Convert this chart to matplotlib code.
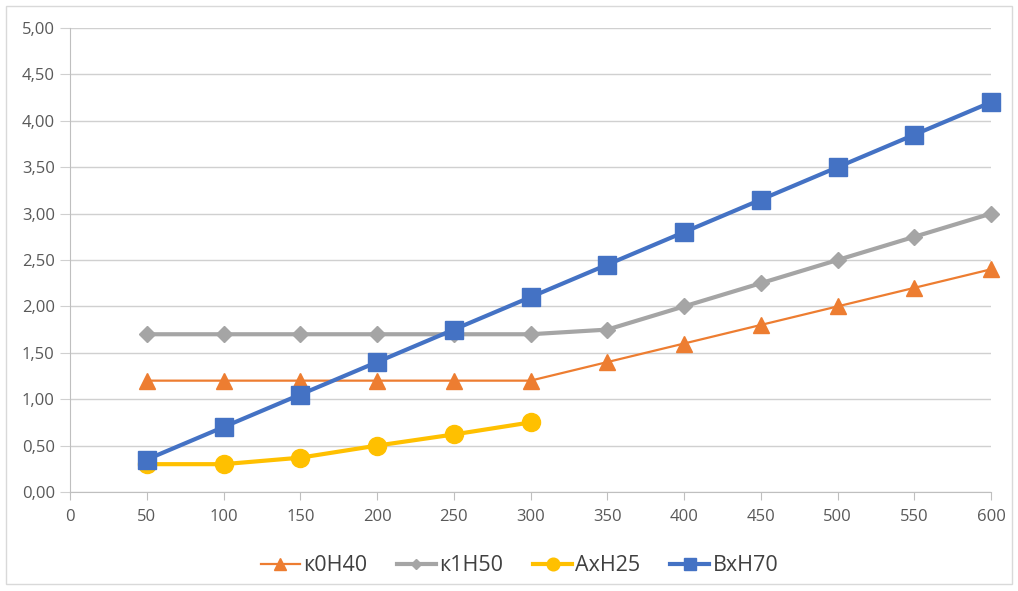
import matplotlib.pyplot as plt
from matplotlib.patches import Rectangle
from matplotlib.ticker import FuncFormatter, MultipleLocator

plt.rcParams['font.family'] = ['Open Sans', 'DejaVu Sans']

# данные
x = [50, 100, 150, 200, 250, 300, 350, 400, 450, 500, 550, 600]
k0n40 = [1.20, 1.20, 1.20, 1.20, 1.20, 1.20, 1.40, 1.60, 1.80, 2.00, 2.20, 2.40]
k1n50 = [1.70, 1.70, 1.70, 1.70, 1.70, 1.70, 1.75, 2.00, 2.25, 2.50, 2.75, 3.00]
x_ax = [50, 100, 150, 200, 250, 300]
axn25 = [0.30, 0.30, 0.37, 0.50, 0.62, 0.75]
vxn70 = [0.35, 0.70, 1.05, 1.40, 1.75, 2.10, 2.45, 2.80, 3.15, 3.50, 3.85, 4.20]

fig = plt.figure(figsize=(10.18, 5.91), dpi=100)
ax = fig.add_axes([0.0688, 0.1675, 0.9047, 0.7851])

ax.plot(x, k0n40, color='#ED7D31', lw=1.6, marker='^', ms=12, label='к0Н40')
ax.plot(x, k1n50, color='#A5A5A5', lw=3, marker='D', ms=8, label='к1Н50')
ax.plot(x_ax, axn25, color='#FFC000', lw=3, marker='o', ms=13, label='АхН25')
ax.plot(x, vxn70, color='#4472C4', lw=3, marker='s', ms=13, label='ВхН70')

ax.set_xlim(0, 600)
ax.set_ylim(0, 5)
ax.xaxis.set_major_locator(MultipleLocator(50))
ax.yaxis.set_major_locator(MultipleLocator(0.5))
ax.yaxis.set_major_formatter(FuncFormatter(lambda v, p: f'{v:.2f}'.replace('.', ',')))
ax.grid(axis='y', color='#D0D0D0', lw=1)
ax.set_axisbelow(True)
for s in ['top', 'right']:
    ax.spines[s].set_visible(False)
ax.spines['left'].set_color('#BFBFBF')
ax.spines['bottom'].set_color('#BFBFBF')
ax.tick_params(axis='x', colors='#BFBFBF', length=6, labelcolor='#595959', labelsize=12, pad=6)
ax.tick_params(axis='y', colors='#D0D0D0', length=7, labelcolor='#595959', labelsize=12, pad=4)
for line in ax.lines:
    line.set_clip_on(False)

ax.legend(loc='upper center', bbox_to_anchor=(0.488, -0.095), ncol=4, frameon=False,
          fontsize=15.5, handlelength=1.8, columnspacing=1.4, handletextpad=0.15,
          markerscale=0.7, labelcolor='#404040')

fig.patches.append(Rectangle((0.006, 0.012), 0.988, 0.978, transform=fig.transFigure,
                             fill=False, edgecolor='#D9D9D9', lw=1))

fig.savefig('out.png', dpi=100)
